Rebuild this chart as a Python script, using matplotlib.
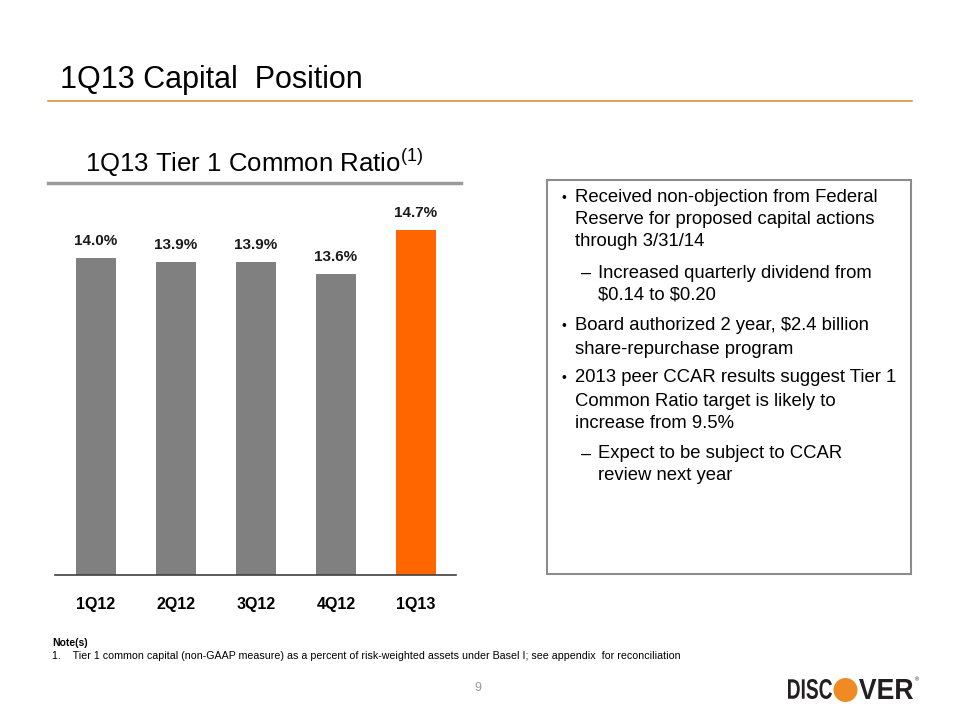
import matplotlib
matplotlib.use('Agg')
import matplotlib.pyplot as plt
from matplotlib.textpath import TextPath
from matplotlib.patches import PathPatch, Circle, Rectangle
from matplotlib.font_manager import FontProperties
from matplotlib.transforms import Affine2D

plt.rcParams['font.family'] = ['Liberation Sans', 'DejaVu Sans']
plt.rcParams['mathtext.fontset'] = 'custom'
plt.rcParams['mathtext.rm'] = 'Liberation Sans'

# data
quarters = ['1Q12', '2Q12', '3Q12', '4Q12', '1Q13']
ratios = [14.0, 13.9, 13.9, 13.6, 14.7]
bar_colors = ['#808080', '#808080', '#808080', '#808080', '#FF6600']

bullets = [
    ('•', 'Received non-objection from Federal'),
    ('', 'Reserve for proposed capital actions'),
    ('', 'through 3/31/14'),
    ('–', 'Increased quarterly dividend from'),
    ('', '\\$0.14 to \\$0.20'),
    ('•', 'Board authorized 2 year, \\$2.4 billion'),
    ('', 'share-repurchase program'),
    ('•', '2013 peer CCAR results suggest Tier 1'),
    ('', 'Common Ratio target is likely to'),
    ('', 'increase from 9.5%'),
    ('–', 'Expect to be subject to CCAR'),
    ('', 'review next year'),
]
levels = [0, 0, 0, 1, 1, 0, 0, 0, 0, 0, 1, 1]
line_y = [198, 220, 242, 273, 295, 326, 349, 378, 401, 423, 454, 476]

fig = plt.figure(figsize=(9.6, 7.2), dpi=100)

# overlay in pixel coordinates
bg = fig.add_axes([0, 0, 1, 1])
bg.set_xlim(0, 960)
bg.set_ylim(720, 0)
bg.axis('off')

bg.text(60, 80, '1Q13 Capital  Position', fontsize=22, va='center', ha='left', color='black')
bg.plot([48, 912], [101, 101], color='#E09040', lw=1.2)

bg.text(254, 163, '1Q13 Tier 1 Common Ratio$^{\\mathrm{(1)}}$', fontsize=18.5,
        va='center', ha='center', color='black')
bg.plot([48, 461], [183, 183], color='#9A9A9A', lw=2.5)

bg.add_patch(Rectangle((547, 180), 364, 394, fill=False, edgecolor='#8C8C8C', lw=1.5))
for (mark, txt), lvl, y in zip(bullets, levels, line_y):
    if lvl == 0:
        if mark:
            bg.text(561, y, mark, fontsize=10, va='center', ha='left')
        bg.text(575, y, txt, fontsize=13.3, va='center', ha='left')
    else:
        if mark:
            bg.text(581, y, mark, fontsize=13, va='center', ha='left')
        bg.text(598, y, txt, fontsize=13.3, va='center', ha='left')

bg.text(52, 643, 'Note(s)', fontsize=7.5, fontweight='bold', va='center', ha='left')
bg.text(52, 656, '1.    Tier 1 common capital (non-GAAP measure) as a percent of risk-weighted assets under Basel I; see appendix  for reconciliation',
        fontsize=7.7, va='center', ha='left')
bg.text(478, 688, '9', fontsize=9, color='#9A9A9A', va='center', ha='center')

# logo
def logo_word(s, x0, x1, ytop, ybot):
    tp = TextPath((0, 0), s, size=1, prop=FontProperties(family='Liberation Sans', weight='bold'))
    ext = tp.get_extents()
    sx = (x1 - x0) / ext.width
    sy = (ybot - ytop) / ext.height
    tr = Affine2D().translate(-ext.x0, -ext.y0).scale(sx, -sy).translate(x0, ybot)
    bg.add_patch(PathPatch(tr.transform_path(tp), color='#231F20', lw=0))

logo_word('DISC', 788, 832, 679, 699)
logo_word('VER', 859, 913, 679, 699)
bg.add_patch(Circle((845.5, 690), 12, color='#F08A24', lw=0))
bg.text(915, 680, '®', fontsize=4, va='center', ha='left', color='#231F20')

# bar chart
ax = fig.add_axes([55 / 960, (720 - 575) / 720, (456 - 55) / 960, (575 - 200) / 720])
x = range(len(quarters))
ax.bar(x, ratios, width=0.5, color=bar_colors)
for xi, v in zip(x, ratios):
    ax.annotate('{:.1f}%'.format(v), (xi, v), xytext=(0, 7), textcoords='offset points',
                ha='center', va='bottom', fontsize=11, fontweight='bold', color='#1A1A1A')
ax.set_xlim(-0.5125, 4.5)
ax.set_ylim(6.075, 15.45)
ax.set_xticks(list(x))
ax.set_xticklabels(quarters, fontsize=11.5, fontweight='bold')
ax.tick_params(axis='x', length=0, pad=16)
ax.set_yticks([])
for s in ['top', 'left', 'right']:
    ax.spines[s].set_visible(False)
ax.spines['bottom'].set_color('#404040')
ax.spines['bottom'].set_linewidth(1.2)
ax.patch.set_alpha(0)

fig.savefig('out.png', dpi=100)
